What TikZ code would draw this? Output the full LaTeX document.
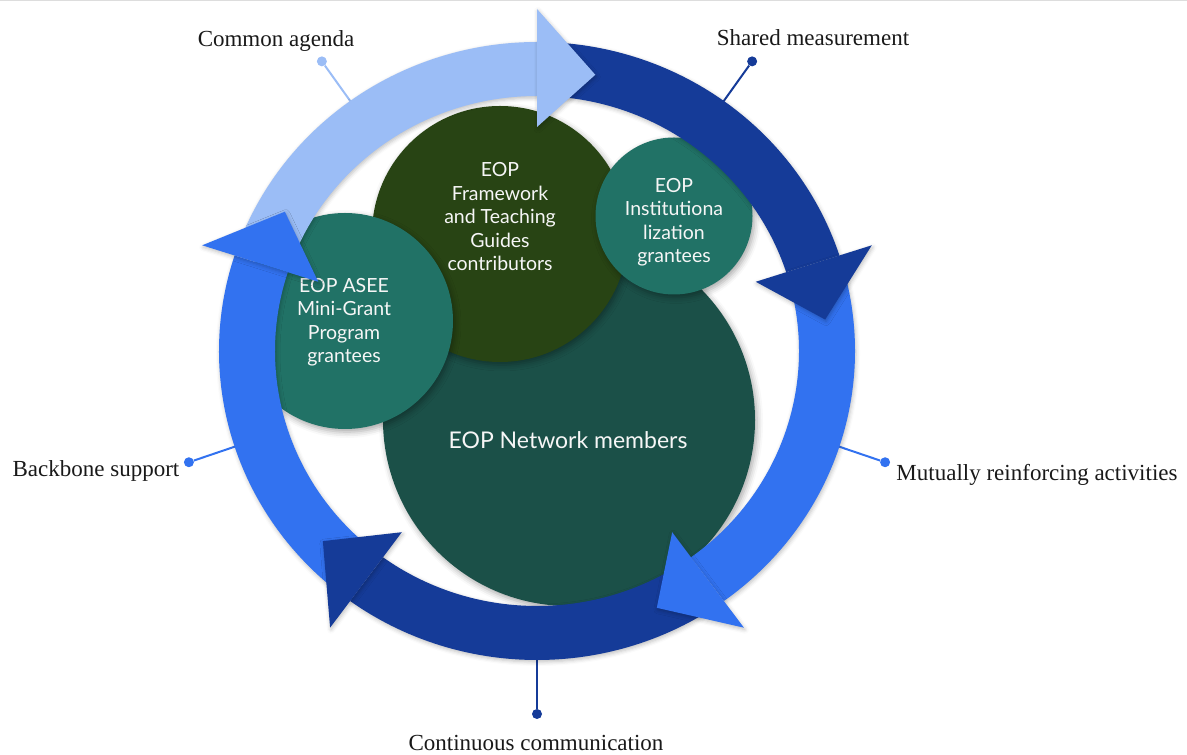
\documentclass[tikz,border=0pt]{standalone}
\usepackage{fontspec}
\setmainfont{Liberation Serif}
\newfontfamily\bubblefont{Lato}
\usetikzlibrary{shadows.blur}
\definecolor{agenda}{HTML}{9BBDF6}
\definecolor{navy}{HTML}{153B98}
\definecolor{royal}{HTML}{3272F0}
\definecolor{olive}{HTML}{284414}
\definecolor{pine}{HTML}{1B5048}
\definecolor{grantteal}{HTML}{217266}
\definecolor{frame}{HTML}{DDDDDD}

\begin{document}
\begin{tikzpicture}[x=1pt, y=1pt,
  bubble/.style={circle, inner sep=0pt,
                 blur shadow={shadow xshift=2pt, shadow yshift=-3pt,
                              shadow blur radius=6pt, shadow opacity=35}},
  bubbletext/.style={align=center, text=white!93!gray,
                     font=\bubblefont\fontsize{19.5}{23.5}\selectfont},
  lbl/.style={anchor=base, text=black!90, font=\fontsize{23}{26}\selectfont},
  dot/.style={circle, inner sep=0pt, minimum size=10pt},
  lead/.style={line width=2pt},
  bandshadow/.style={blur shadow={shadow xshift=1pt, shadow yshift=-2pt,
                     shadow blur radius=4pt, shadow opacity=25}}
]
\useasboundingbox (0,0) rectangle (1187,755);
\draw[frame, line width=1pt] (0,754) -- (1187,754);

% groups
\node[bubble, fill=pine, minimum size=372pt] (network) at (569,335) {};
\node[bubble, fill=olive, minimum size=256pt] (framework) at (500,521) {};
\node[bubble, fill=grantteal, minimum size=157pt] (inst) at (674,539) {};
\node[bubble, fill=grantteal, minimum size=216pt] (asee) at (345,434) {};
\node[bubbletext, font=\bubblefont\fontsize{23}{27}\selectfont] (networktxt)
  at ([xshift=-1pt, yshift=-20pt]network.center) {EOP Network members};
\node[bubbletext] (frameworktxt) at ([yshift=17pt]framework.center)
  {EOP\\Framework\\and Teaching\\Guides\\contributors};
\node[bubbletext] (insttxt) at ([yshift=-6pt]inst.center)
  {EOP\\Institutiona\\lization\\grantees};
\node[bubbletext] (aseetxt) at ([xshift=-1pt, yshift=-1pt]asee.center)
  {EOP ASEE\\Mini-Grant\\Program\\grantees};

\begin{scope}[shift={(537,404)}]
  % leader lines, ring end hidden under the bands
  \coordinate (agendaring) at (126:300 and 291);
  \coordinate (sharedring) at (54:300 and 291);
  \coordinate (mutualring) at (-18:300 and 291);
  \coordinate (commring) at (-90:300 and 291);
  \coordinate (backring) at (198:300 and 291);
  \node[dot, fill=agenda] (agendadot) at (126:366 and 358) {};
  \node[dot, fill=navy] (shareddot) at (54:366 and 358) {};
  \node[dot, fill=royal] (mutualdot) at (-18:366 and 360) {};
  \node[dot, fill=navy] (commdot) at (-90:366 and 363) {};
  \node[dot, fill=royal] (backdot) at (198:366 and 360) {};
  \draw[lead, agenda] (agendadot) -- (agendaring);
  \draw[lead, navy] (shareddot) -- (sharedring);
  \draw[lead, royal] (mutualdot) -- (mutualring);
  \draw[lead, navy] (commdot) -- (commring);
  \draw[lead, royal] (backdot) -- (backring);

  % cycle: bands first, heads on top
  \foreach \col/\s/\b in {agenda/157/90, navy/86/18, royal/14/-54,
                          navy/-58/-126, royal/-130/-198}
    \fill[\col, bandshadow] (\s:318 and 309)
      arc[start angle=\s, end angle=\b, x radius=318, y radius=309]
      -- (\b:262 and 255)
      arc[start angle=\b, end angle=\s, x radius=262, y radius=255] -- cycle;
  \foreach \col/\b in {agenda/90, navy/18, royal/-54, navy/-126, royal/-198}
    \fill[\col, bandshadow] (\b:352 and 342) -- ({\b-11.6}:290 and 282)
      -- (\b:230 and 224) -- cycle;
\end{scope}

% the five conditions
\node[lbl] (agendalbl) at (276,708) {Common agenda};
\node[lbl] (sharedlbl) at (813,709) {Shared measurement};
\node[lbl] (mutuallbl) at (1037,274) {Mutually reinforcing activities};
\node[lbl] (backlbl) at (96,278) {Backbone support};
\node[lbl] (commlbl) at (536,4.5) {Continuous communication};
\end{tikzpicture}
\end{document}
